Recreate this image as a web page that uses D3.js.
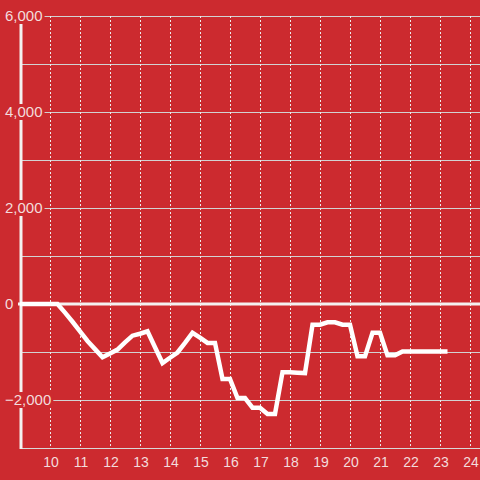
<!DOCTYPE html>
<html><head><meta charset="utf-8">
<script src="https://cdn.jsdelivr.net/npm/d3@7"></script>
<style>
html,body{margin:0;padding:0;background:#cc2a2f;}
svg{display:block;}
</style></head>
<body>
<script>
// 15-minute readings from 9:00 to 23:15
const startHour = 9;
const stepHours = 0.25;
const values = [
  0, 0, 0, 0, 0, 0,
  -180, -370, -570, -770, -940, -1110,
  -1030, -950, -800, -660,
  -620, -570, -900, -1230,
  -1120, -1010, -810, -600,
  -700, -810, -810, -1560,
  -1560, -1960, -1960, -2160,
  -2160, -2290, -2290, -1420,
  -1420, -1430, -1440, -430,
  -430, -380, -380, -430,
  -430, -1090, -1090, -600,
  -600, -1070, -1070, -990,
  -990, -990, -990, -990,
  -990, -990
];
const xTicks = [10,11,12,13,14,15,16,17,18,19,20,21,22,23,24];
const yLabelTicks = [6000, 4000, 2000, 0, -2000];
const yGridTicks = [6000,5000,4000,3000,2000,1000,0,-1000,-2000];

const W = 480, H = 480;
const bg = "#cc2a2f";
const font = "'Liberation Sans', Arial, sans-serif";
const svg = d3.select("body").append("svg").attr("width", W).attr("height", H);
svg.append("rect").attr("width", W).attr("height", H).attr("fill", bg);

const x = d3.scaleLinear().domain([9, 9 + 460/30]).range([20, 480]);
const y = d3.scaleLinear().domain([-3000, 6000]).range([448, 16]);

const data = values.map((v, i) => ({t: startHour + i*stepHours, v}));

// horizontal grid
svg.append("g").selectAll("line").data(yGridTicks.filter(d => d !== 0)).join("line")
  .attr("x1", 20).attr("x2", 480)
  .attr("y1", d => Math.round(y(d)) + 0.5).attr("y2", d => Math.round(y(d)) + 0.5)
  .attr("stroke", "#d2d2d2").attr("stroke-width", 1);

// vertical dotted grid
svg.append("g").selectAll("line").data(xTicks).join("line")
  .attr("x1", d => Math.round(x(d)) + 0.5).attr("x2", d => Math.round(x(d)) + 0.5)
  .attr("y1", 16).attr("y2", 448)
  .attr("stroke", "#ececec").attr("stroke-width", 1).attr("stroke-dasharray", "2,2");

// bottom axis line
svg.append("line").attr("x1", 20).attr("x2", 480).attr("y1", 448.5).attr("y2", 448.5)
  .attr("stroke", "#d8d8d8").attr("stroke-width", 1);

// zero line
svg.append("line").attr("x1", 18).attr("x2", 480).attr("y1", y(0)).attr("y2", y(0))
  .attr("stroke", "#f4f0f0").attr("stroke-width", 3);

// y axis line
svg.append("line").attr("x1", 21).attr("x2", 21).attr("y1", 16).attr("y2", 449)
  .attr("stroke", "#f4f0f0").attr("stroke-width", 3);

// y labels with background
const fmt = d3.format(",");
const yl = svg.append("g").selectAll("g").data(yLabelTicks).join("g")
  .attr("transform", d => `translate(5,${y(d)})`);
yl.append("text")
  .attr("dy", "0.35em")
  .attr("font-family", font)
  .attr("font-size", 15)
  .attr("fill", "#f3dcdc")
  .text(d => fmt(d))
  .each(function() {
    const b = this.getBBox();
    d3.select(this.parentNode).insert("rect", "text")
      .attr("x", b.x - 1).attr("y", -8).attr("width", b.width + 3).attr("height", 16)
      .attr("fill", bg);
  });

// x labels
svg.append("g").selectAll("text").data(xTicks).join("text")
  .attr("x", d => x(d) + 1).attr("y", 467)
  .attr("text-anchor", "middle")
  .attr("font-family", font)
  .attr("font-size", 14)
  .attr("fill", "#f3dcdc")
  .text(d => d);

// data line
const line = d3.line().x(d => x(d.t)).y(d => y(d.v));
svg.append("path").datum(data).attr("d", line)
  .attr("fill", "none").attr("stroke", "#ffffff").attr("stroke-width", 4.5)
  .attr("stroke-linejoin", "miter").attr("stroke-linecap", "butt");
</script>
</body></html>
